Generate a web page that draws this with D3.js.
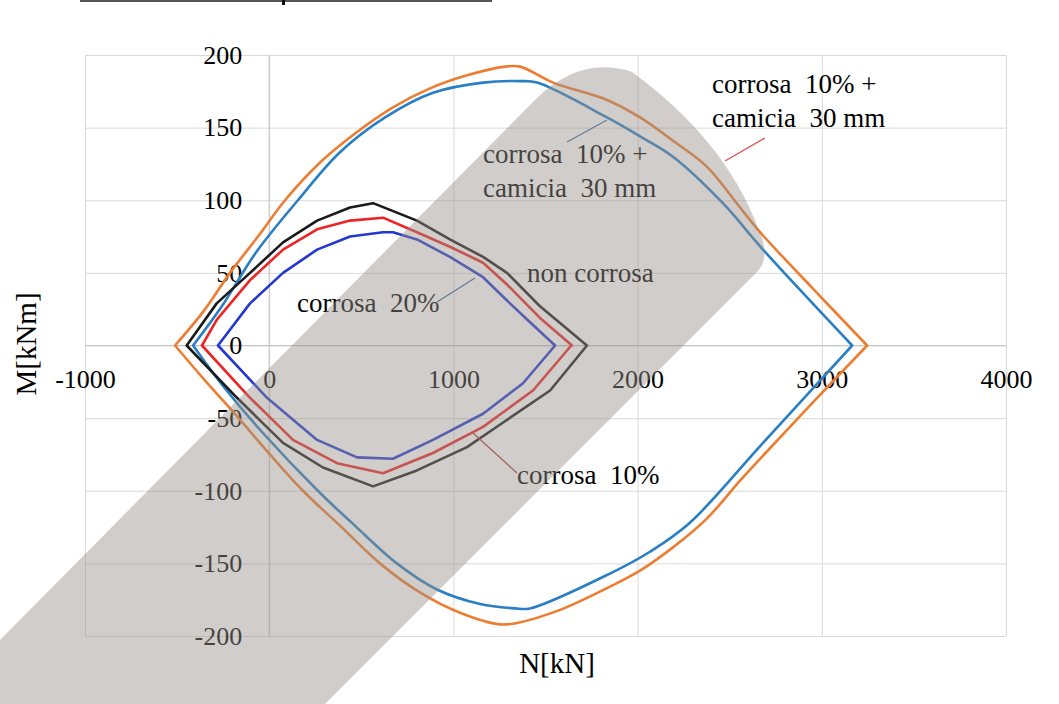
<!DOCTYPE html>
<html>
<head>
<meta charset="utf-8">
<script src="https://cdn.jsdelivr.net/npm/d3@7"></script>
<style>
  body { margin: 0; background: #fff; }
  svg { display: block; font-family: 'Liberation Serif', 'Times New Roman', serif; }
</style>
</head>
<body>
<svg width="1059" height="704"></svg>
<script>
// Tick values
const xTicks = [-1000, 0, 1000, 2000, 3000, 4000];
const yTicks = [-200, -150, -100, -50, 0, 50, 100, 150, 200];

// Interaction domains [N kN, M kNm], upper and lower branches
const camiciaOuterUpper = [[-511,0],[-354,24],[-213,50],[-61,75],[86,100],[276,126],[466,146],[672,164],[873,177],[1074,186],[1280,192],[1362,192],[1541,181],[1834,169],[2013,157],[2192,141],[2377,123],[2556,95],[2665,78],[2953,39],[3246,0]];
const camiciaOuterLower = [[-511,0],[-349,-24],[-159,-51],[4,-75],[183,-100],[384,-124],[601,-150],[818,-170],[1036,-184],[1253,-192],[1345,-191],[1579,-182],[1850,-166],[2013,-155],[2192,-139],[2377,-119],[2556,-93],[2665,-78],[2953,-39],[3246,0]];

const camiciaInnerUpper = [[-413,0],[-257,27],[-72,64],[156,100],[384,133],[629,157],[889,174],[1161,181],[1362,182],[1454,181],[1834,157],[2013,144],[2192,130],[2463,98],[2681,66],[3165,0]];
const camiciaInnerLower = [[-413,0],[-256,-27],[-50,-58],[264,-100],[465,-124],[693,-150],[911,-168],[1145,-178],[1335,-181],[1416,-181],[1850,-157],[2067,-142],[2284,-122],[2681,-67],[3165,0]];

const nonCorrosaUpper = [[-448,0],[-285,29],[-104,50],[75,71],[260,86],[439,95],[564,98],[802,86],[981,73],[1161,61],[1291,50],[1470,27],[1725,0]];
const nonCorrosaLower = [[-448,0],[-175,-36],[75,-67],[292,-84],[564,-97],[802,-86],[1074,-70],[1270,-53],[1525,-31],[1725,0]];

const corrosa10Upper = [[-365,0],[-283,18],[-104,45],[75,66],[260,80],[439,86],[618,88],[802,78],[981,68],[1161,57],[1291,42],[1470,19],[1644,0]];
const corrosa10Lower = [[-365,0],[-104,-36],[129,-65],[368,-81],[618,-88],[889,-74],[1161,-56],[1432,-31],[1640,0]];

const corrosa20Upper = [[-278,0],[-104,29],[75,50],[260,66],[439,75],[618,78],[672,78],[802,73],[981,61],[1161,47],[1291,31],[1416,16],[1552,0]];
const corrosa20Lower = [[-278,0],[-12,-36],[260,-65],[477,-77],[672,-78],[889,-65],[1161,-47],[1378,-26],[1552,0]];

const series = [
  { upper: camiciaOuterUpper, lower: camiciaOuterLower, color: '#ed7d31', smooth: true },
  { upper: camiciaInnerUpper, lower: camiciaInnerLower, color: '#2a7fc4', smooth: true },
  { upper: nonCorrosaUpper, lower: nonCorrosaLower, color: '#1a1a1a', smooth: false },
  { upper: corrosa10Upper, lower: corrosa10Lower, color: '#ee2424', smooth: false },
  { upper: corrosa20Upper, lower: corrosa20Lower, color: '#2238d0', smooth: false }
];

// Plot area
const plotLeft = 85, plotRight = 1006, plotTop = 55, plotBottom = 636;

const svg = d3.select('svg');

const x = d3.scaleLinear().domain([-1000, 4000]).range([plotLeft, plotRight]);
const y = d3.scaleLinear().domain([-200, 200]).range([plotBottom, plotTop]);

// Grid
svg.append('g')
    .attr('transform', `translate(0,${plotBottom})`)
    .call(d3.axisBottom(x).tickValues(xTicks).tickSize(-(plotBottom - plotTop)).tickFormat(''))
    .call(g => g.select('.domain').remove())
    .call(g => g.selectAll('line').attr('stroke', '#d9d9d9'));

svg.append('g')
    .attr('transform', `translate(${plotLeft},0)`)
    .call(d3.axisLeft(y).tickValues(yTicks).tickSize(-(plotRight - plotLeft)).tickFormat(''))
    .call(g => g.select('.domain').remove())
    .call(g => g.selectAll('line').attr('stroke', '#d9d9d9'));

// Axes crossing at zero
svg.append('line')
    .attr('x1', plotLeft).attr('x2', plotRight)
    .attr('y1', y(0)).attr('y2', y(0))
    .attr('stroke', '#c4c4c4');
svg.append('line')
    .attr('x1', x(0)).attr('x2', x(0))
    .attr('y1', plotTop).attr('y2', plotBottom)
    .attr('stroke', '#c4c4c4');

// Tick labels (plain hyphen, no thousands separator)
const plain = d => String(d);

svg.append('g')
    .attr('transform', `translate(${x(0)},0)`)
    .call(d3.axisLeft(y).tickValues(yTicks).tickSize(0).tickPadding(27).tickFormat(plain))
    .call(g => g.select('.domain').remove())
    .call(g => g.selectAll('text')
        .attr('font-family', "'Liberation Serif', serif")
        .attr('font-size', 26)
        .attr('fill', '#000'));

svg.append('g')
    .attr('transform', `translate(0,${y(0)})`)
    .call(d3.axisBottom(x).tickValues(xTicks).tickSize(0).tickPadding(24).tickFormat(plain))
    .call(g => g.select('.domain').remove())
    .call(g => g.selectAll('text')
        .attr('font-family', "'Liberation Serif', serif")
        .attr('font-size', 26)
        .attr('fill', '#000'));

// Axis titles
svg.append('text')
    .attr('transform', 'translate(36,344) rotate(-90)')
    .attr('text-anchor', 'middle')
    .attr('font-size', 29)
    .text('M[kNm]');

svg.append('text')
    .attr('x', 557).attr('y', 673)
    .attr('text-anchor', 'middle')
    .attr('font-size', 29)
    .text('N[kN]');

// Curves: upper branch left to right, then lower branch back to the start
const straight = d3.line().x(d => x(d[0])).y(d => y(d[1]));
const rounded = d3.line().x(d => x(d[0])).y(d => y(d[1])).curve(d3.curveCatmullRom.alpha(0.5));

function loop(d) {
  const gen = d.smooth ? rounded : straight;
  return gen(d.upper) + gen(d.lower.slice().reverse()).replace('M', 'L') + 'Z';
}

svg.append('g')
  .selectAll('path')
  .data(series)
  .join('path')
    .attr('d', loop)
    .attr('fill', 'none')
    .attr('stroke', d => d.color)
    .attr('stroke-width', 2.6)
    .attr('stroke-linejoin', 'round');

// Data labels with leader lines
const labels = [
  { lines: ['corrosa  10% +', 'camicia  30 mm'], x: 712, y: 93 },
  { lines: ['corrosa  10% +', 'camicia  30 mm'], x: 483, y: 163 },
  { lines: ['non corrosa'], x: 527, y: 282 },
  { lines: ['corrosa  20%'], x: 297, y: 312 },
  { lines: ['corrosa  10%'], x: 517, y: 484 }
];
const leaders = [
  { x1: 765, y1: 138, x2: 725, y2: 161, color: '#e05050' },
  { x1: 607, y1: 120, x2: 567, y2: 142, color: '#3f6fa8' },
  { x1: 475, y1: 278, x2: 437, y2: 302, color: '#3f6fa8' },
  { x1: 473, y1: 433, x2: 517, y2: 473, color: '#a84040' }
];

svg.append('g')
  .selectAll('line')
  .data(leaders)
  .join('line')
    .attr('x1', d => d.x1).attr('y1', d => d.y1)
    .attr('x2', d => d.x2).attr('y2', d => d.y2)
    .attr('stroke', d => d.color)
    .attr('stroke-width', 1.3);

const lab = svg.append('g')
  .selectAll('text')
  .data(labels)
  .join('text')
    .attr('x', d => d.x).attr('y', d => d.y)
    .attr('font-size', 27)
    .attr('fill', '#000')
    .style('white-space', 'pre');
lab.selectAll('tspan')
  .data(d => d.lines.map((t, i) => ({ t, i, x: d.x })))
  .join('tspan')
    .attr('x', d => d.x)
    .attr('dy', d => d.i === 0 ? 0 : 34)
    .text(d => d.t);

// Cut off heading rule at the top
svg.append('line')
    .attr('x1', 80).attr('x2', 492).attr('y1', 1).attr('y2', 1)
    .attr('stroke', '#555').attr('stroke-width', 2);
svg.append('rect')
    .attr('x', 282).attr('y', 0).attr('width', 3).attr('height', 5)
    .attr('fill', '#111');

// Grey diagonal band laid over the chart
svg.append('path')
    .attr('d', 'M0,640 L535,100 Q580,55 632,72 Q725,140 758,228 Q772,258 756,273 L325,704 L0,704 Z')
    .attr('fill', 'rgb(150,144,138)')
    .attr('fill-opacity', 0.45);
</script>
</body>
</html>
